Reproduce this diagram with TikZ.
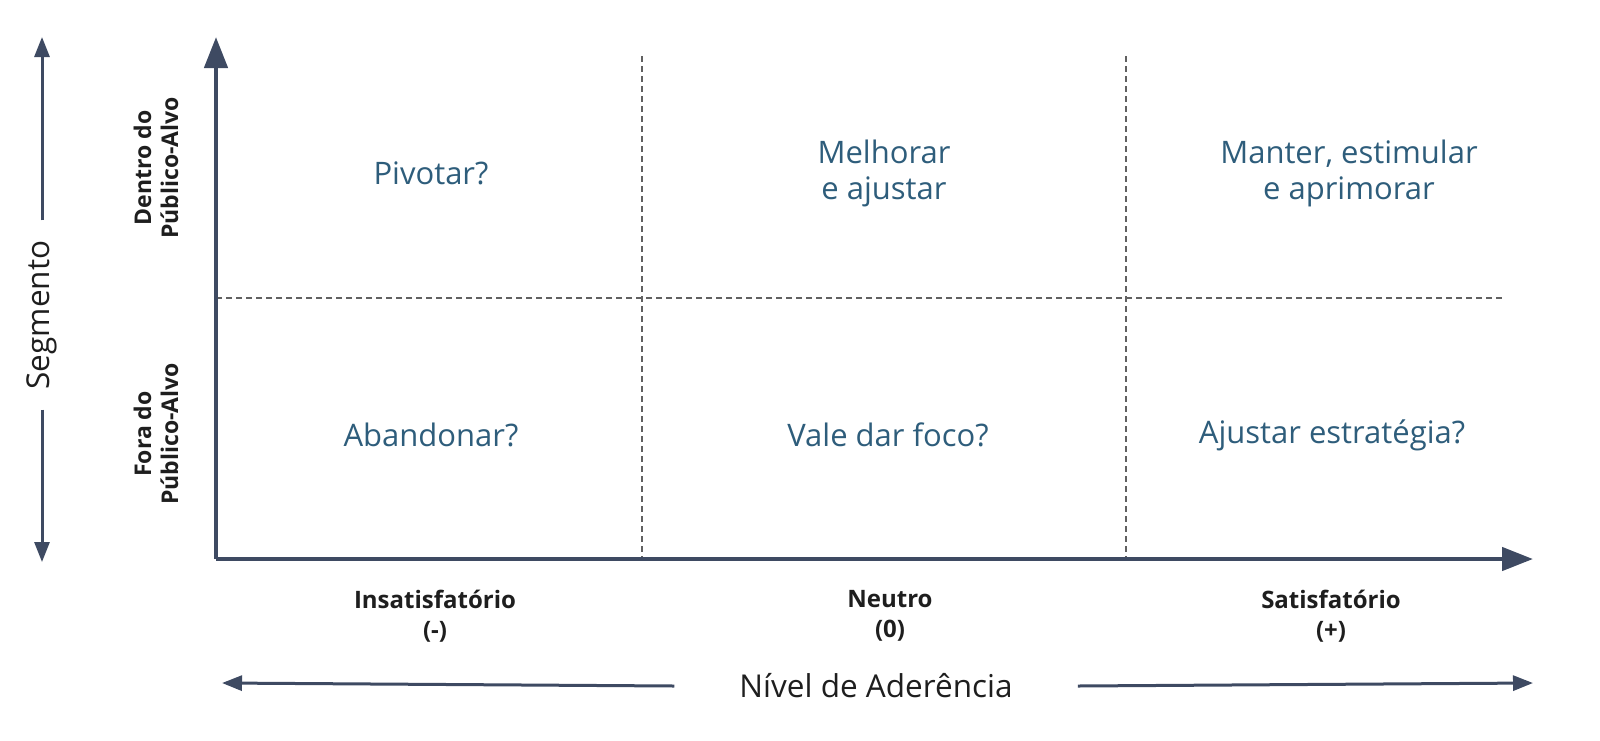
\documentclass[tikz,border=0pt]{standalone}
\usepackage{fontspec}
\setmainfont{Open Sans}
\usetikzlibrary{arrows.meta}

\definecolor{axiscol}{HTML}{3E4A62}
\definecolor{quadcol}{HTML}{2E5D7B}
\definecolor{labcol}{HTML}{1E1E1E}

\tikzset{
  axis/.style={axiscol, line width=4.5pt, -{Triangle[length=31pt,width=23pt]}},
  guide/.style={axiscol, line width=3pt, -{Triangle[length=20pt,width=15pt]}},
  gridline/.style={black!62, line width=1.2pt, dash pattern=on 6pt off 4pt},
  quad/.style={text=quadcol, font=\fontsize{31}{36}\selectfont, align=center},
  level/.style={text=labcol, font=\bfseries\fontsize{24}{30}\selectfont, align=center},
  target/.style={text=labcol, font=\bfseries\fontsize{23}{27}\selectfont, align=center, rotate=90},
  title/.style={text=labcol, font=\fontsize{31.5}{36}\selectfont},
}

\begin{document}
\begin{tikzpicture}[x=1pt,y=-1pt]
\useasboundingbox (0,0) rectangle (1600,740);

% Axes
\coordinate (o) at (216,559);
\coordinate (ytop) at (216,37);
\coordinate (xend) at (1533,559);
\coordinate (hl) at (216,298);
\coordinate (hr) at (1502,298);
\coordinate (v1t) at (642,56);
\coordinate (v1b) at (642,559);
\coordinate (v2t) at (1126,56);
\coordinate (v2b) at (1126,559);

% Dashed grid
\draw[gridline] (hl) -- (hr);
\draw[gridline] (v1t) -- (v1b);
\draw[gridline] (v2t) -- (v2b);

\draw[axis] (o) -- (ytop);
\draw[axis] (o) -- (xend);

% Quadrants
\node[quad] (pivot) at (431,173) {Pivotar?};
\node[quad] (improve) at (884,173) {Melhorar\\e ajustar};
\node[quad] (keep) at (1349,173) {Manter, estimular\\e aprimorar};
\node[quad] (drop) at (431,435) {Abandonar?};
\node[quad] (focus) at (888,435) {Vale dar foco?};
\node[quad] (adjust) at (1332,435) {Ajustar estratégia?};

% Segment labels
\node[target] (inside) at (156,168) {Dentro do\\Público-Alvo};
\node[target] (outside) at (156,434) {Fora do\\Público-Alvo};

% Level labels
\node[level] (bad) at (435,616) {Insatisfatório\\(-)};
\node[level] (neutral) at (890,616) {Neutro\\(0)};
\node[level] (good) at (1331,616) {Satisfatório\\(+)};

% Segmento arrow
\coordinate (segtop) at (42,37);
\coordinate (segbot) at (42,562);
\node[title, rotate=90, inner xsep=20pt] (seg) at (42,315) {Segmento};
\draw[guide] (seg.east) -- (segtop);
\draw[guide] (seg.west) -- (segbot);

% Nivel arrow
\coordinate (nl) at (222,683);
\coordinate (nr) at (1533,683);
\node[title, inner xsep=65pt] (niv) at (876,686) {Nível de Aderência};
\draw[guide] (niv.west) -- (nl);
\draw[guide] (niv.east) -- (nr);
\end{tikzpicture}
\end{document}
